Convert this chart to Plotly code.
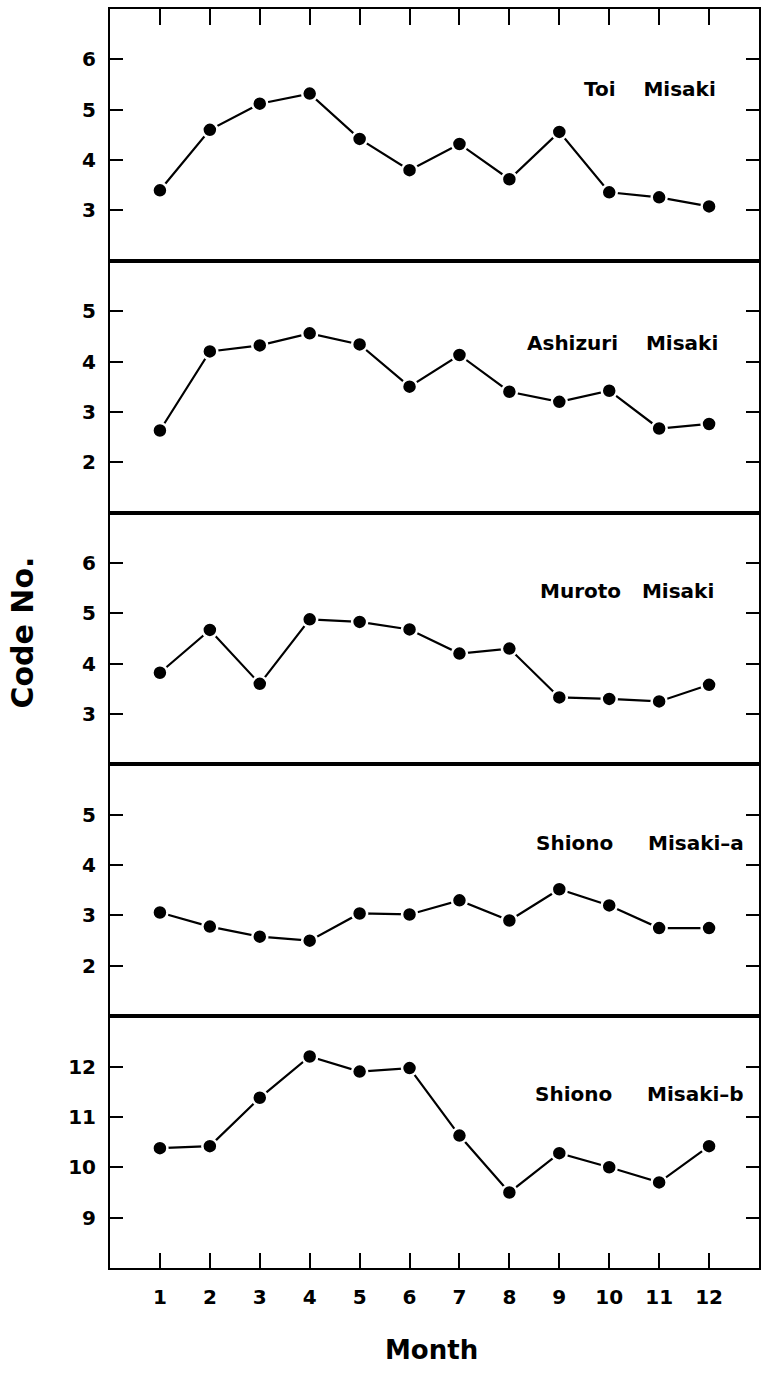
import plotly.graph_objects as go
from plotly.subplots import make_subplots

months = [1, 2, 3, 4, 5, 6, 7, 8, 9, 10, 11, 12]
month_labels = [str(m) for m in months]

toi = [3.4, 4.6, 5.12, 5.32, 4.42, 3.8, 4.32, 3.62, 4.56, 3.36, 3.26, 3.08]
ashizuri = [2.63, 4.2, 4.32, 4.56, 4.34, 3.5, 4.13, 3.4, 3.2, 3.42, 2.67, 2.76]
muroto = [3.82, 4.67, 3.6, 4.88, 4.83, 4.68, 4.2, 4.3, 3.33, 3.3, 3.25, 3.58]
shiono_a = [3.06, 2.78, 2.58, 2.5, 3.04, 3.02, 3.3, 2.9, 3.52, 3.2, 2.75, 2.75]
shiono_b = [10.38, 10.42, 11.38, 12.2, 11.9, 11.97, 10.63, 9.5, 10.28, 10.0, 9.7, 10.42]

series = [toi, ashizuri, muroto, shiono_a, shiono_b]
names = ["Toi    Misaki", "Ashizuri    Misaki", "Muroto   Misaki",
         "Shiono     Misaki–a", "Shiono     Misaki–b"]
y_ranges = [[2, 7], [1, 6], [2, 7], [1, 6], [8, 13]]
y_ticks = [[3, 4, 5, 6], [2, 3, 4, 5], [3, 4, 5, 6], [2, 3, 4, 5], [9, 10, 11, 12]]
label_x = [0.937, 0.94, 0.933, 0.98, 0.98]
label_y = [0.683, 0.675, 0.687, 0.687, 0.69]

FONT = "DejaVu Sans"

fig = make_subplots(rows=5, cols=1, vertical_spacing=0)

for i, vals in enumerate(series):
    r = i + 1
    fig.add_trace(go.Scatter(
        x=months, y=vals, mode="lines+markers",
        line=dict(color="black", width=2.2),
        marker=dict(color="black", size=15, line=dict(color="white", width=2.5)),
        showlegend=False, hoverinfo="skip"), row=r, col=1)

    xa = dict(range=[0, 13], showgrid=False, zeroline=False, showline=True,
              linecolor="black", linewidth=2, mirror=True,
              tickvals=months, ticktext=month_labels)
    if r == 1:
        xa.update(side="top", ticks="inside", ticklen=16, tickwidth=2,
                  tickcolor="black", showticklabels=False)
    elif r == 5:
        xa.update(ticks="inside", ticklen=15, tickwidth=2, tickcolor="black",
                  showticklabels=True, ticklabelstandoff=10,
                  tickfont=dict(family=FONT, size=20, color="black", weight="bold"))
    else:
        xa.update(ticks="", showticklabels=False)
    fig.update_xaxes(row=r, col=1, **xa)

    fig.update_yaxes(row=r, col=1, range=y_ranges[i], tickvals=y_ticks[i],
                     showgrid=False, zeroline=False, showline=True,
                     linecolor="black", linewidth=2, mirror="ticks",
                     ticks="inside", ticklen=13, tickwidth=2, tickcolor="black",
                     ticklabelstandoff=8,
                     tickfont=dict(family=FONT, size=20, color="black", weight="bold"))

    xref = "x domain" if r == 1 else f"x{r} domain"
    yref = "y domain" if r == 1 else f"y{r} domain"
    fig.add_annotation(text=names[i], xref=xref, yref=yref,
                       x=label_x[i], y=label_y[i], xanchor="right", yanchor="middle",
                       showarrow=False,
                       font=dict(family=FONT, size=20, color="black", weight="bold"))

fig.add_annotation(text="Code No.", xref="paper", yref="paper", x=-0.135, y=0.505,
                   xanchor="center", yanchor="middle", textangle=-90, showarrow=False,
                   font=dict(family=FONT, size=30, color="black", weight="bold"))
fig.add_annotation(text="Month", xref="paper", yref="paper", x=0.495, y=-0.065,
                   xanchor="center", yanchor="middle", showarrow=False,
                   font=dict(family=FONT, size=26, color="black", weight="bold"))

fig.update_layout(width=763, height=1375,
                  margin=dict(l=110, r=2, t=9, b=107),
                  paper_bgcolor="white", plot_bgcolor="white")

fig.write_html("out.html", config={"displayModeBar": False},
               post_script="document.body.style.margin='0';")
